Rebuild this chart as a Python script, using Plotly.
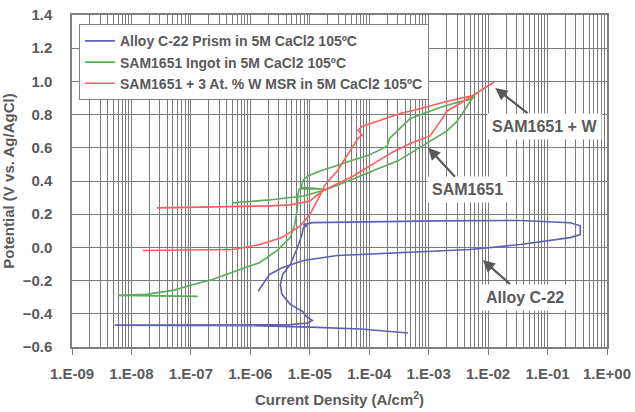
import plotly.graph_objects as go

# Cyclic polarization scans in 5M CaCl2 at 105 C
# current density in A/cm^2, potential in V vs. Ag/AgCl

c22_current = [4.5e-4, 7.1e-5, 1.0e-5, 1.0e-6, 5.2e-9, 1.4e-7, 4.7e-6, 9.3e-6, 1.1e-5,
               8.3e-6, 7.8e-6, 4.7e-6, 3.4e-6, 3.2e-6, 3.5e-6, 4.7e-6, 6.2e-6, 7.4e-6,
               7.8e-6, 8.9e-6, 7.8e-6, 1.1e-5, 1.0e-4, 1.4e-3, 3.5e-2, 0.24, 0.355,
               0.355, 0.24, 3.5e-2, 5.0e-3, 3.7e-4, 2.9e-5, 7.8e-6, 3.5e-6, 2.1e-6, 1.35e-6]
c22_potential = [-0.516, -0.492, -0.480, -0.471, -0.468, -0.468, -0.465, -0.455, -0.440,
                 -0.410, -0.390, -0.343, -0.283, -0.223, -0.163, -0.103, -0.001, 0.077,
                 0.119, 0.130, 0.137, 0.149, 0.155, 0.160, 0.162, 0.149, 0.130,
                 0.077, 0.059, 0.017, -0.013, -0.031, -0.049, -0.079, -0.121, -0.163, -0.265]

sam_current = [1.3e-7, 5.9e-9, 1.8e-8, 5.0e-8, 1.1e-7, 2.3e-7, 6.0e-7, 1.45e-6, 2.8e-6,
               4.7e-6, 5.6e-6, 6.2e-6, 6.3e-6, 6.6e-6, 1.65e-5, 7.1e-6, 7.8e-6, 9.3e-6,
               1.5e-5, 2.9e-5, 5.4e-5, 1.0e-4, 1.5e-4, 2.0e-4, 2.2e-4, 3.0e-4, 3.7e-4,
               4.9e-4, 8.1e-4, 1.55e-3, 3.4e-3, 5.0e-3, 6.0e-3, 4.6e-3, 3.8e-3, 3.0e-3,
               2.0e-3, 1.05e-3, 5.5e-4, 3.0e-4, 1.5e-4, 5.4e-5, 1.8e-5, 7.8e-6, 2.1e-6, 4.9e-7]
sam_potential = [-0.295, -0.289, -0.283, -0.259, -0.223, -0.193, -0.139, -0.091, -0.019,
                 0.059, 0.137, 0.238, 0.316, 0.352, 0.352, 0.362, 0.406, 0.430,
                 0.460, 0.496, 0.526, 0.556, 0.586, 0.610, 0.657, 0.700, 0.735,
                 0.777, 0.807, 0.843, 0.879, 0.891, 0.921, 0.861, 0.813, 0.759,
                 0.700, 0.640, 0.580, 0.520, 0.478, 0.412, 0.346, 0.310, 0.286, 0.268]

samw_current = [1.55e-8, 5.1e-7, 1.45e-6, 3.4e-6, 6.9e-6, 1.0e-5, 1.5e-5, 1.8e-5, 2.9e-5,
                4.8e-5, 6.5e-5, 7.6e-5, 6.5e-5, 7.6e-5, 1.35e-4, 3.3e-4, 5.5e-4, 2.0e-3,
                5.6e-3, 1.3e-2, 7.2e-3, 3.8e-3, 2.0e-3, 1.7e-3, 1.05e-3, 5.5e-4, 3.0e-4,
                1.9e-4, 5.4e-5, 1.65e-5, 1.0e-5, 4.7e-6, 2.1e-6, 4.1e-7, 2.7e-8]
samw_potential = [-0.019, -0.013, 0.017, 0.059, 0.130, 0.196, 0.316, 0.376, 0.460,
                  0.580, 0.657, 0.675, 0.705, 0.729, 0.759, 0.807, 0.825, 0.879,
                  0.915, 0.999, 0.939, 0.879, 0.819, 0.777, 0.670, 0.634, 0.590,
                  0.550, 0.430, 0.340, 0.280, 0.256, 0.250, 0.244, 0.238]

series_names = ["Alloy C-22 Prism in 5M CaCl2 105ºC",
                "SAM1651 Ingot in 5M CaCl2 105ºC",
                "SAM1651 + 3 At. % W MSR in 5M CaCl2 105ºC"]

x_tick_values = [1e-9, 1e-8, 1e-7, 1e-6, 1e-5, 1e-4, 1e-3, 1e-2, 1e-1, 1e0]
x_tick_labels = ["1.E-09", "1.E-08", "1.E-07", "1.E-06", "1.E-05",
                 "1.E-04", "1.E-03", "1.E-02", "1.E-01", "1.E+00"]
y_tick_values = [-0.6, -0.4, -0.2, 0.0, 0.2, 0.4, 0.6, 0.8, 1.0, 1.2, 1.4]

# callout text, arrow tip (log10 current, potential), text offset in px
callout_text = ["SAM1651 + W", "SAM1651", "Alloy C-22"]
callout_tip_logx = [-1.88, -3.01, -2.09]
callout_tip_y = [0.96, 0.60, -0.076]
callout_dx = [49, 39, 42]
callout_dy = [38, 42, 37]

FONT = "Arial, 'Liberation Sans', sans-serif"
TEXT = "#5a5a5a"
GRID = "#7a7a7a"

fig = go.Figure()
for name, xs, ys, color in [
    (series_names[0], c22_current, c22_potential, "#5f5fb4"),
    (series_names[1], sam_current, sam_potential, "#55ad55"),
    (series_names[2], samw_current, samw_potential, "#ff5c5c"),
]:
    fig.add_trace(go.Scatter(x=xs, y=ys, mode="lines", name=name,
                             line=dict(color=color, width=1.6)))

fig.update_layout(
    width=635, height=412,
    margin=dict(l=72, r=28, t=15, b=65),
    paper_bgcolor="white", plot_bgcolor="white",
    font=dict(family=FONT, size=15, color=TEXT, weight="bold"),
    showlegend=True,
    legend=dict(x=0.013, y=0.972, xanchor="left", yanchor="top",
                bgcolor="white", bordercolor="#808080", borderwidth=1,
                font=dict(family=FONT, size=14, color=TEXT, weight="bold"),
                itemwidth=30, tracegroupgap=0),
)

fig.update_xaxes(
    type="log", range=[-9, 0], automargin=False,
    tickvals=x_tick_values, ticktext=x_tick_labels,
    ticks="outside", ticklen=6, tickcolor="#808080",
    ticklabelstandoff=6,
    showgrid=True, gridcolor=GRID, gridwidth=1,
    minor=dict(dtick="D1", showgrid=True, gridcolor=GRID, gridwidth=1, ticks=""),
    showline=True, linecolor="#808080", linewidth=1.5, mirror=True,
    zeroline=False,
    tickfont=dict(family=FONT, size=15, color=TEXT, weight="bold"),
    title=dict(text="Current Density (A/cm<sup>2</sup>)", standoff=14,
               font=dict(family=FONT, size=15, color=TEXT, weight="bold")),
)
fig.update_yaxes(
    range=[-0.6, 1.4], tickvals=y_tick_values, tickformat=".1f", automargin=False,
    ticks="", showgrid=True, gridcolor=GRID, gridwidth=1,
    showline=True, linecolor="#808080", linewidth=1.5, mirror=True,
    zeroline=False, ticklabelstandoff=15,
    tickfont=dict(family=FONT, size=15, color=TEXT, weight="bold"),
    title=dict(text="Potential (V vs. Ag/AgCl)", standoff=6,
               font=dict(family=FONT, size=15, color=TEXT, weight="bold")),
)

# callout labels with arrows pointing at each curve (log axis takes log10 x)
for text, lx, y, dx, dy in zip(callout_text, callout_tip_logx, callout_tip_y,
                               callout_dx, callout_dy):
    fig.add_annotation(
        x=lx, y=y, xref="x", yref="y", text=text, showarrow=True,
        ax=dx, ay=dy, axref="pixel", ayref="pixel",
        arrowhead=2, arrowsize=1.1, arrowwidth=2.2, arrowcolor="#595959",
        bgcolor="white", borderpad=4,
        font=dict(family=FONT, size=16, color=TEXT, weight="bold"),
    )

fig.write_html("out.html")
